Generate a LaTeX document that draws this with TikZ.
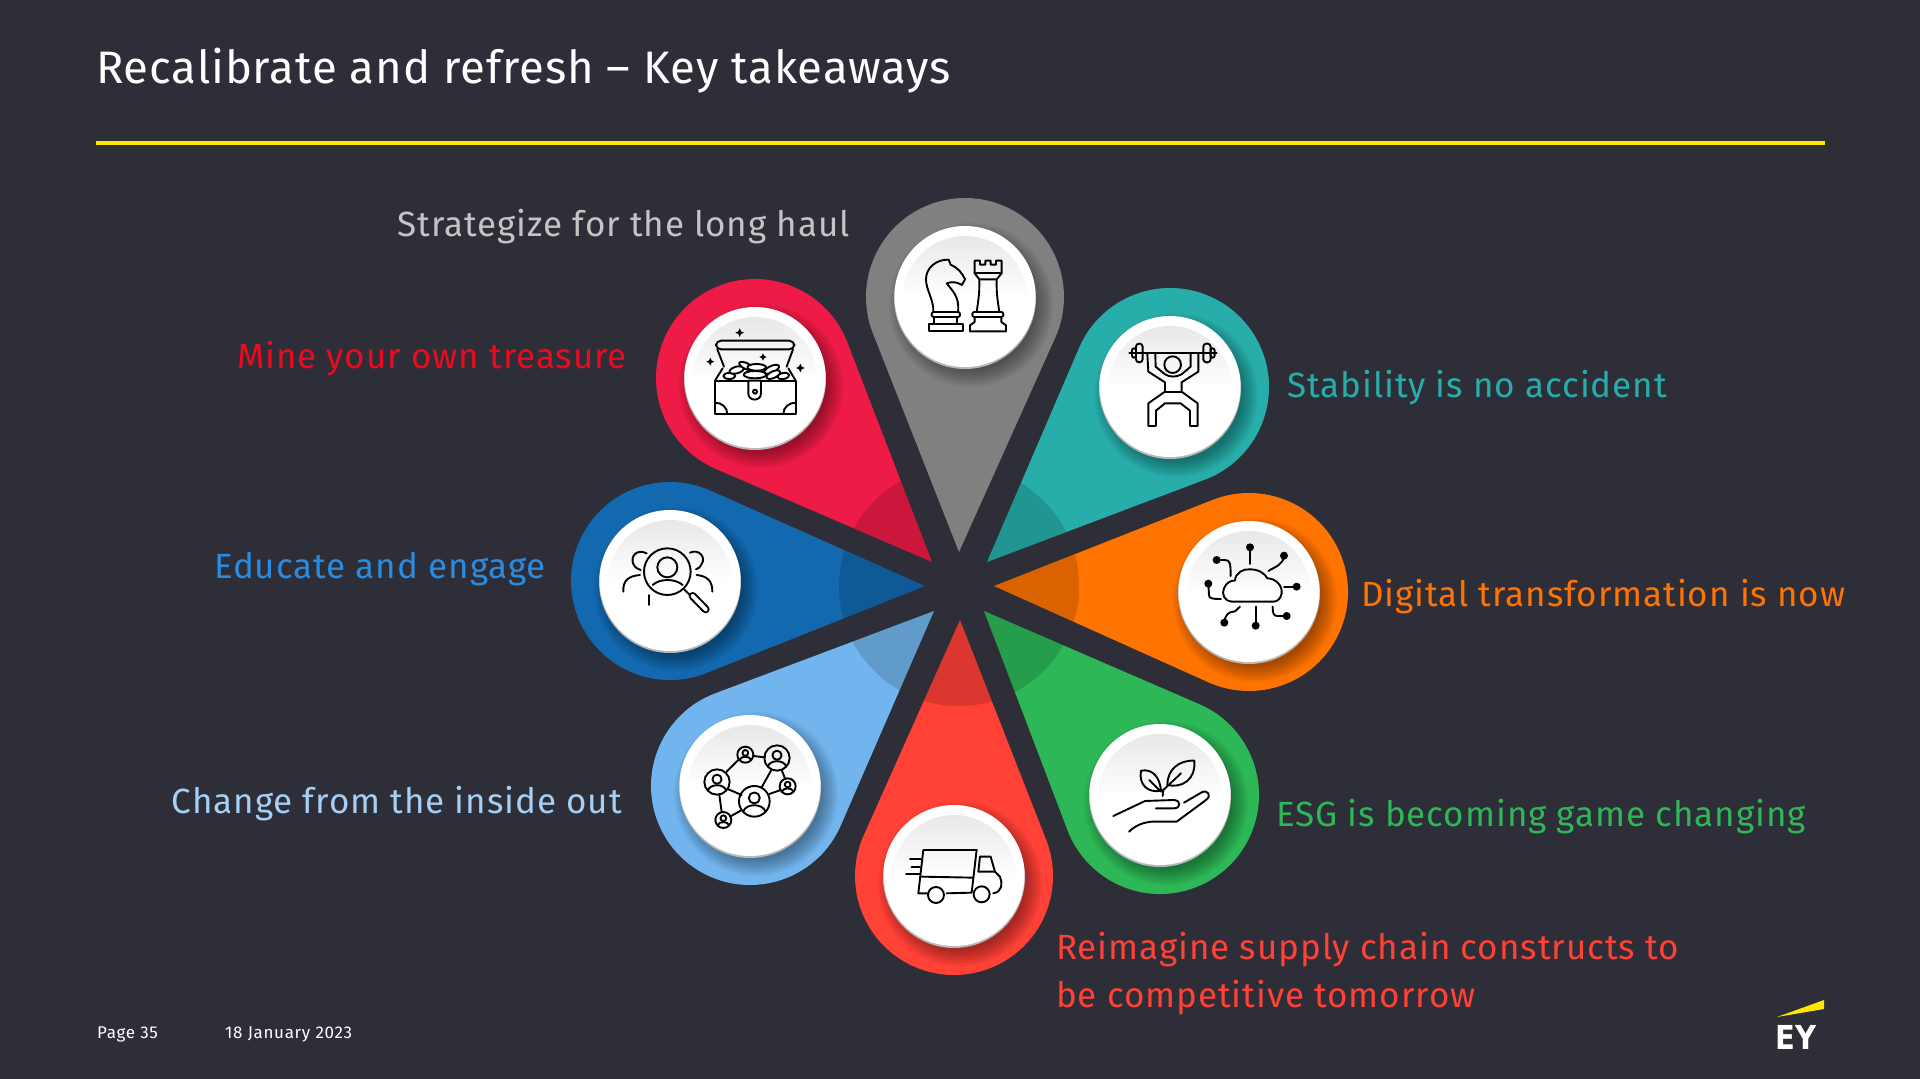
\documentclass[tikz,border=0pt]{standalone}
\usepackage{fontspec}
\usepackage{graphicx}
\setmainfont{Fira Sans}
\newfontfamily\lblfont[LetterSpace=2.7]{Fira Sans}
\newfontfamily\ttlfont[LetterSpace=2.0]{Fira Sans}
\newfontfamily\footfont[LetterSpace=4]{Fira Sans}
\newfontfamily\logofont{DejaVu Sans}
\definecolor{bg}{HTML}{2E2E38}
\definecolor{eyyellow}{HTML}{FFE600}
\definecolor{pgrey}{HTML}{808080}
\definecolor{pteal}{HTML}{27AEAB}
\definecolor{pcrim}{HTML}{ED1B45}
\definecolor{pblue}{HTML}{1269AF}
\definecolor{porange}{HTML}{FF7300}
\definecolor{plight}{HTML}{72B5EE}
\definecolor{pred}{HTML}{FF4136}
\definecolor{pgreen}{HTML}{2DB757}
\definecolor{tgrey}{HTML}{C4C4C4}
\definecolor{tmine}{HTML}{EE0A1E}
\definecolor{tedu}{HTML}{2A8CE0}
\definecolor{tchg}{HTML}{A5CFF5}
\tikzset{
  lbl/.style={inner sep=0pt,font=\lblfont\fontsize{35}{35}\selectfont},
  foot/.style={inner sep=0pt,text=white,font=\footfont\fontsize{17}{17}\selectfont},
  disc/.style={circle,fill=white,minimum size=141pt,inner sep=0pt},
  ico/.style={line width=1.9pt,line join=round,line cap=round,draw=black},
}
\newcommand\pin[6]{%
  \pgfmathsetmacro\pth{atan2(#4-#2,#3-#1)}%
  \pgfmathsetmacro\pdd{veclen(#3-#1,#4-#2)}%
  \pgfmathsetmacro\pal{asin(99/\pdd)}%
  \pgfmathsetmacro\psa{\pth+180+90-\pal}%
  \pgfmathsetmacro\pea{\pth+180+360-90+\pal}%
  \fill[#5] (#1,#2) -- ([shift={(\psa:99)}]#3,#4) arc[start angle=\psa,end angle=\pea,radius=99] -- cycle;
  \begin{scope}
    \clip (#1,#2) -- ([shift={(\psa:99)}]#3,#4) arc[start angle=\psa,end angle=\pea,radius=99] -- cycle;
    \fill[black,opacity=#6] (959,586) circle (120);
  \end{scope}
}
\newcommand\button[3]{%
  \foreach \i in {1,...,10}{\fill[black,opacity=.04] (#2+6,#3+8) circle ({64+\i*1.8});}
  \fill[black!28] (#2,#3+1) circle (71);
  \node[disc] (#1) at (#2,#3-.5) {};
  \shade[top color=black!9,bottom color=white,middle color=white] (#2,#3+1) circle (62);
}
\newcommand\pers[3]{%
  \draw (#1,#2) circle (#3);
  \draw (#1,{#2-.22*#3}) circle ({.36*#3});
  \draw ({#1-.72*#3},{#2+.66*#3}) .. controls ({#1-.55*#3},{#2+.12*#3}) and ({#1+.55*#3},{#2+.12*#3}) .. ({#1+.72*#3},{#2+.66*#3});
}
\newcommand\spark[3]{%
  \fill (#1-#3,#2) .. controls (#1-.25*#3,#2-.25*#3) .. (#1,#2-#3) .. controls (#1+.25*#3,#2-.25*#3) .. (#1+#3,#2) .. controls (#1+.25*#3,#2+.25*#3) .. (#1,#2+#3) .. controls (#1-.25*#3,#2+.25*#3) .. cycle;
}
\newcommand\coin[5]{\draw[fill=white,rotate around={#5:(#1,#2)}] (#1,#2) ellipse (#3 and #4);}
\begin{document}
\begin{tikzpicture}[x=1pt,y=-1pt]
\useasboundingbox (0,0) rectangle (1920,1079);
\fill[bg] (0,0) rectangle (1920,1079);

\node[anchor=base west,inner sep=0pt,text=white,font=\ttlfont\fontsize{45.5}{46}\selectfont] (title) at (96,83) {Recalibrate and refresh – Key takeaways};
\coordinate (ruleL) at (96,143);
\coordinate (ruleR) at (1825,143);
\draw[eyyellow,line width=3.2pt] (ruleL) -- (ruleR);

% petals
\pin{959}{552}{965}{297}{pgrey}{0}
\pin{987}{562}{1170}{387}{pteal}{.14}
\pin{994}{586}{1249}{592}{porange}{.14}
\pin{984}{611}{1160}{795}{pgreen}{.14}
\pin{960}{620}{954}{876}{pred}{.14}
\pin{934}{611}{750}{786}{plight}{.14}
\pin{925}{586}{670}{581}{pblue}{.14}
\pin{932}{562}{755}{378}{pcrim}{.14}

% discs
\button{dChess}{965}{297}
\button{dLift}{1170}{387}
\button{dCloud}{1249}{592}
\button{dPlant}{1160}{795}
\button{dTruck}{954}{876}
\button{dNet}{750}{786}
\button{dSearch}{670}{581}
\button{dChest}{755}{378}

% chess
\begin{scope}[shift={(840,190)},x=.3333pt,y=-.3333pt,ico]
  \draw (267,424) rectangle (368,401);
  \draw[rounded corners=2pt] (275,381)--(360,381)--(360,366)--(275,366)--cycle;
  \draw (283,401)--(283,381) (352,401)--(352,381);
  \draw (280,366) .. controls (282,330) and (258,300) .. (258,268) .. controls (258,232) and (290,208) .. (326,209) -- (332,224) .. controls (352,232) and (368,250) .. (375,268) -- (366,285) .. controls (355,280) and (345,272) .. (320,280) .. controls (335,300) and (360,320) .. (354,366);
  \draw (390,424)--(498,424)--(498,406)--(484,396)--(484,381) (390,424)--(390,406)--(404,396)--(404,381);
  \draw[rounded corners=2pt] (397,381)--(490,381)--(490,366)--(397,366)--cycle;
  \draw (404,212)--(420,212)--(420,224)--(436,224)--(436,212)--(452,212)--(452,224)--(468,224)--(468,212)--(485,212)--(485,250)--(470,268)--(418,268)--(404,250)--cycle;
  \draw (404,250)--(485,250);
  \draw (418,268) .. controls (418,310) .. (410,366) (470,268) .. controls (470,310) .. (478,366);
\end{scope}

% lifter
\begin{scope}[shift={(840,190)},x=.3333pt,y=-.3333pt,ico]
  \draw (868,488)--(1130,488);
  \draw[rounded corners=3pt] (888,461) rectangle (908,517);
  \draw[rounded corners=3pt] (1090,461) rectangle (1112,517);
  \draw[rounded corners=2pt] (876,475) rectangle (888,503);
  \draw[rounded corners=2pt] (1112,475) rectangle (1124,503);
  \draw (998,524) circle (25);
  \draw (922,490)--(925,545)--(975,577)--(975,605)--(925,640)--(925,708)--(948,708)--(948,662)--(975,640)--(1022,640)--(1050,662)--(1050,708)--(1073,708)--(1073,640)--(1025,605)--(1025,577)--(1075,545)--(1075,490);
  \draw (946,490)--(947,530)--(975,553) .. controls (990,562) and (1008,562) .. (1025,553)--(1052,530)--(1052,490);
  \draw (975,605)--(1025,605);
\end{scope}

% chest
\begin{scope}[shift={(640,270)},x=.3333pt,y=-.3333pt,ico,fill=black]
  \draw (225,332) rectangle (467,432);
  \draw[rounded corners=5pt] (228,238)--(228,212)--(463,212)--(463,238)--cycle;
  \draw (232,238)--(252,290) (459,238)--(440,290);
  \draw (225,332)--(248,295) (467,332)--(445,295);
  \draw (225,398) .. controls (245,398) and (262,412) .. (262,432);
  \draw (467,398) .. controls (447,398) and (430,412) .. (430,432);
  \coin{268}{318}{18}{9}{0}
  \coin{430}{318}{18}{9}{10}
  \coin{290}{300}{22}{10}{15}
  \coin{395}{298}{24}{10}{25}
  \coin{318}{288}{22}{9}{-25}
  \coin{350}{292}{28}{10}{0}
  \coin{345}{314}{34}{11}{0}
  \coin{400}{314}{22}{10}{25}
  \draw[fill=white] (325,332)--(325,370) .. controls (325,395) and (363,395) .. (363,370)--(363,332)--cycle;
  \draw (345,365) circle (6);
  \spark{299}{188}{13}
  \spark{211}{275}{12}
  \spark{369}{261}{11}
  \spark{481}{294}{13}
\end{scope}

% search people
\begin{scope}[shift={(580,490)},x=.3333pt,y=-.3333pt,ico]
  \draw (262,245) circle (70);
  \draw (262,232) circle (30);
  \draw (218,285) .. controls (240,265) and (285,265) .. (308,285);
  \draw (200,190) .. controls (170,175) and (150,200) .. (160,222) .. controls (165,232) and (172,238) .. (182,240);
  \draw (330,188) .. controls (360,175) and (378,205) .. (365,222) .. controls (360,232) and (355,236) .. (348,238);
  \draw (180,255) .. controls (145,258) and (128,272) .. (130,305);
  \draw (350,255) .. controls (380,258) and (398,272) .. (397,305);
  \draw (208,315)--(208,345);
  \draw (312,298)--(330,315);
  \draw[line width=8pt] (338,318)--(377,358);
  \draw[line width=4pt,draw=white] (338,318)--(377,358);
\end{scope}

% cloud
\begin{scope}[shift={(1160,510)},x=.3333pt,y=-.3333pt,ico]
  \draw (215,275) .. controls (195,275) and (183,252) .. (192,235) .. controls (198,218) and (215,210) .. (225,212) .. controls (225,190) and (250,175) .. (270,178) .. controls (295,178) and (315,190) .. (322,205) .. controls (345,205) and (368,225) .. (365,250) .. controls (362,268) and (350,275) .. (340,275) -- cycle;
  \draw (270,112)--(270,162);
  \draw (372,137) .. controls (370,165) and (345,170) .. (325,183);
  \draw (170,150)--(195,150) .. controls (210,150) and (212,160) .. (212,198);
  \draw (145,221)--(147,255) .. controls (147,265) and (155,267) .. (183,267);
  \draw (410,230)--(372,230);
  \draw (380,318)--(352,318) .. controls (340,318) and (338,308) .. (338,290);
  \draw (287,347)--(287,290);
  \draw (193,338) .. controls (195,315) and (205,305) .. (225,304) -- (240,290);
  \fill (270,112) circle (12) (372,137) circle (12) (170,150) circle (12) (145,221) circle (12) (410,230) circle (12) (380,318) circle (12) (287,347) circle (12) (193,338) circle (12);
\end{scope}

% network
\begin{scope}[shift={(670,700)},x=.3333pt,y=-.3333pt,ico]
  \draw (170,215)--(205,180) (250,168)--(285,172) (303,212)--(275,262) (335,210)--(345,235) (175,268)--(215,285) (298,282)--(332,270) (148,285)--(155,336) (180,350)--(212,332);
  \pers{141}{246}{38}
  \pers{321}{174}{38}
  \pers{253}{304}{46}
  \pers{226}{164}{24}
  \pers{353}{259}{24}
  \pers{160}{360}{24}
\end{scope}

% truck
\begin{scope}[shift={(670,700)},x=.3333pt,y=-.3333pt,ico]
  \draw (772,580)--(745,580)--(760,450)--(920,450)--(905,578)--(830,580);
  \draw (755,530)--(910,533);
  \draw (720,478)--(752,478) (725,500)--(750,500) (708,522)--(748,522);
  \draw (798,585) circle (24);
  \draw (935,583) circle (24);
  \draw (930,470)--(962,470) .. controls (970,490) .. (975,515)--(990,530) .. controls (998,550) and (998,575) .. (970,580);
  \draw (930,470)--(925,515)--(975,515);
\end{scope}

% plant
\begin{scope}[shift={(1080,720)},x=.3333pt,y=-.3333pt,ico]
  \draw (248,228)--(250,208);
  \draw (183,152) .. controls (220,145) and (240,175) .. (243,212) .. controls (205,220) and (175,195) .. (183,152);
  \draw (208,180)--(243,215);
  \draw (343,122) .. controls (295,120) and (262,150) .. (262,195) .. controls (305,205) and (348,180) .. (343,122);
  \draw (250,210)--(303,160);
  \draw (100,288)--(195,243)--(282,240) .. controls (305,242) and (302,265) .. (282,265)--(228,265);
  \draw (312,248)--(365,217) .. controls (385,208) and (395,228) .. (378,240)--(290,305)--(215,305) .. controls (185,308) and (165,318) .. (147,335);
\end{scope}

% labels
\node[lbl,anchor=base east,text=tgrey] (l1) at (850,236) {Strategize for the long haul};
\node[lbl,anchor=base east,text=tmine] (l2) at (627,368) {Mine your own treasure};
\node[lbl,anchor=base east,text=tedu] (l3) at (546,578) {Educate and engage};
\node[lbl,anchor=base east,text=tchg] (l4) at (622,813) {Change from the inside out};
\node[lbl,anchor=base west,text=pteal] (l5) at (1287,397) {Stability is no accident};
\node[lbl,anchor=base west,text=porange] (l6) at (1361,606) {Digital transformation is now};
\node[lbl,anchor=base west,text=pgreen] (l7) at (1276,826) {ESG is becoming game changing};
\node[lbl,anchor=base west,text=pred] (l8a) at (1056,959) {Reimagine supply chain constructs to};
\node[lbl,anchor=base west,text=pred] (l8b) at (1056,1007) {be competitive tomorrow};

% footer
\node[foot,anchor=base west] (page) at (97,1038) {Page 35};
\node[foot,anchor=base west] (date) at (225,1038) {18 January 2023};

% logo
\fill[eyyellow] (1777,1017) -- (1824,1000) -- (1824,1009) -- cycle;
\node[anchor=base west,inner sep=0pt,text=white,font=\logofont\bfseries\fontsize{33}{33}\selectfont] (ey) at (1775,1049) {\scalebox{.88}[1]{EY}};
\end{tikzpicture}
\end{document}
